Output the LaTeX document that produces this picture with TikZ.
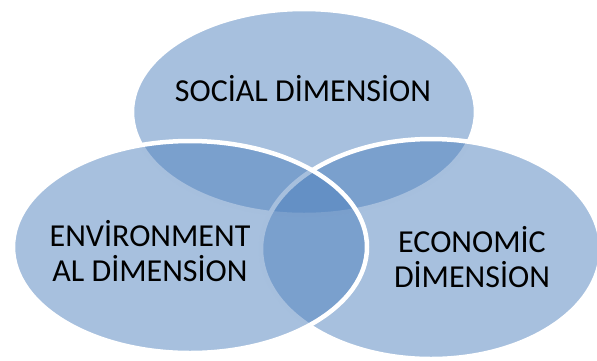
\documentclass[tikz,border=0pt]{standalone}
\usepackage{fontspec}
\setmainfont{Carlito}
\definecolor{dimblue}{HTML}{4F81BD}

\begin{document}
\begin{tikzpicture}[x=1pt,y=-1pt,
    dimring/.style={fill=dimblue, fill opacity=.5, draw=white, line width=4.5pt},
    dimlabel/.style={align=center, font=\fontsize{32}{35}\selectfont, text=black}]
  \useasboundingbox (0,0) rectangle (597,360);
  % the three dimensions, social first, environmental on top
  \draw[dimring] (304,112) ellipse [x radius=172pt, y radius=103pt];
  \draw[dimring] (431,249) ellipse [x radius=170pt, y radius=110pt];
  \draw[dimring] (190,247) ellipse [x radius=177pt, y radius=106pt];
  \node[dimlabel] (social) at (303,89) {SOCİAL DİMENSİON};
  \node[dimlabel] (environment) at (150,251) {ENVİRONMENT\\AL DİMENSİON};
  \node[dimlabel] (economic) at (472,257) {ECONOMİC\\DİMENSİON};
\end{tikzpicture}
\end{document}
